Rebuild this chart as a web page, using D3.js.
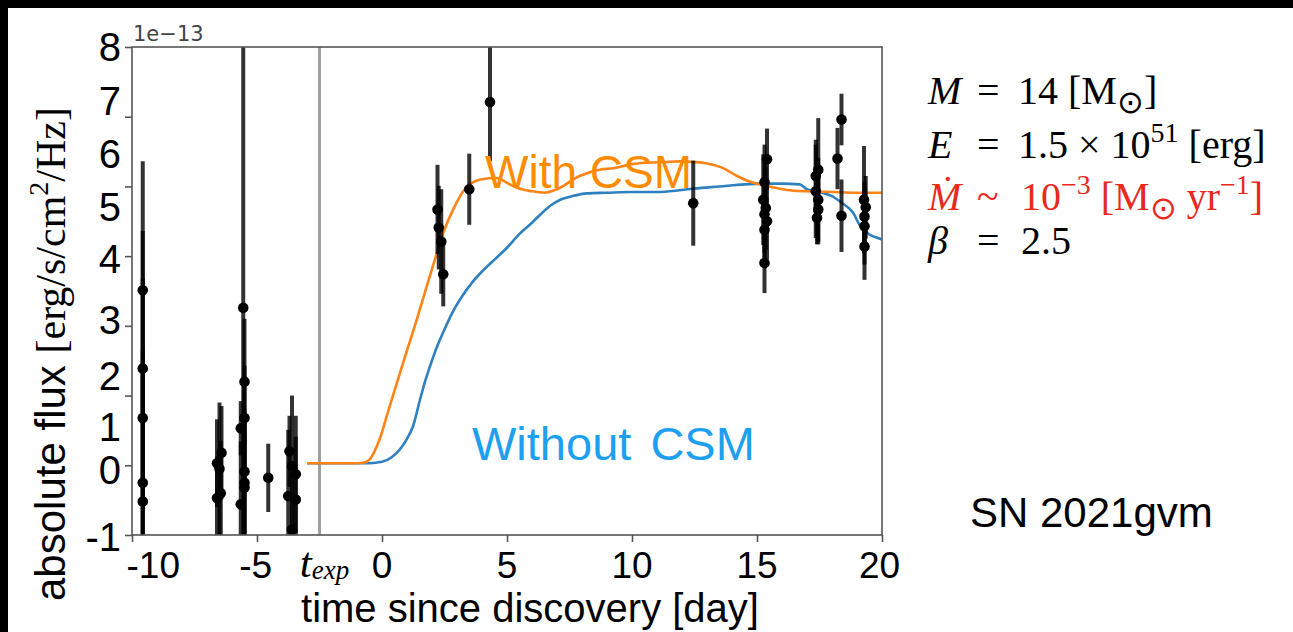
<!DOCTYPE html>
<html><head><meta charset="utf-8">
<script src="https://cdn.jsdelivr.net/npm/d3@7"></script>
<style>body{margin:0;background:#fff;} svg{display:block}</style>
</head><body><svg id="c" width="1293" height="632"></svg>
<script>
// ---------- data ----------
const xTicks = [-10, -5, 0, 5, 10, 15, 20];
const xLabels = ["-10", "-5", "t_exp", "0", "5", "10", "15", "20"];
const xLabelAt = [-9.15, -5.05, -2.3, 0, 5, 10, 15, 19.9];
const yTicks = [-1, 0, 1, 2, 3, 4, 5, 6];
const yLabels = ["8", "7", "6", "5", "4", "3", "2", "1", "0", "-1"];
const yLabelAt = [6.0, 5.23, 4.47, 3.71, 2.97, 2.09, 1.29, 0.56, -0.06, -1.02];
const tExp = -2.5;

const withCSMDay  = [-3.0,-2.0,-1.0,-0.7,-0.5,-0.3,-0.1,0.2,0.5,0.8,1.1,1.4,1.65,1.9,2.2,2.5,2.85,3.25,3.6,3.95,4.6,5.0,5.4,6.0,6.5,7.0,7.9,8.7,9.25,10.0,10.6,11.3,11.9,12.5,13.0,13.6,14.2,14.7,15.1,15.6,16.2,17.0,18.0,19.0,20.0];
const withCSMFlux = [0.03,0.03,0.03,0.04,0.08,0.2,0.37,0.72,1.07,1.42,1.76,2.1,2.4,2.7,3.05,3.38,3.67,3.93,4.05,4.1,4.12,4.05,3.98,3.93,3.91,3.96,4.15,4.24,4.26,4.32,4.34,4.35,4.36,4.35,4.33,4.27,4.15,4.07,4.03,3.99,3.95,3.93,3.92,3.91,3.91];

const noCSMDay  = [-3.0,-1.0,-0.5,0.0,0.4,0.72,1.0,1.24,1.52,1.72,1.92,2.2,2.44,2.8,3.2,3.6,4.0,4.5,5.0,5.5,6.0,6.4,6.8,7.2,7.6,8.2,9.0,10.0,11.0,11.5,12.5,13.5,14.5,15.4,16.0,16.7,17.0,17.5,18.0,18.3,18.6,18.85,19.1,19.3,19.5,19.75,20.0];
const noCSMFlux = [0.03,0.03,0.03,0.05,0.12,0.23,0.38,0.56,0.94,1.2,1.42,1.7,1.9,2.18,2.42,2.62,2.78,2.95,3.12,3.32,3.48,3.62,3.74,3.82,3.86,3.9,3.91,3.92,3.92,3.93,3.97,4.0,4.03,4.04,4.04,4.03,3.96,3.92,3.86,3.79,3.71,3.62,3.45,3.38,3.31,3.27,3.24];

const obsDay  = [-9.57,-9.57,-9.57,-9.57,-9.57,
                 -6.6,-6.42,-6.45,-6.6,-6.5,
                 -5.55,-5.5,-5.5,-5.65,-5.5,-5.5,-5.5,-5.65,
                 -4.55,
                 -3.6,-3.7,-3.45,-3.75,-3.45,-3.6,
                 2.22,2.27,2.37,2.45,
                 3.49,4.32,12.45,
                 15.4,15.3,15.25,15.35,15.3,15.4,15.3,15.3,
                 17.45,17.35,17.35,17.45,17.45,17.4,
                 18.38,18.22,18.38,
                 19.28,19.35,19.3,19.3,19.3];
const obsFlux = [2.51,1.39,0.68,-0.25,-0.52,
                 0.03,0.18,-0.40,-0.47,-0.05,
                 2.26,1.2,0.68,0.53,-0.09,-0.25,-0.32,-0.56,
                 -0.18,
                 -0.01,0.2,-0.13,-0.44,-0.49,-0.92,
                 3.67,3.41,3.21,2.74,
                 3.96,5.21,3.76,
                 4.39,4.06,3.81,3.69,3.6,3.5,3.38,2.9,
                 4.24,4.15,3.93,3.81,3.67,3.55,
                 4.96,4.4,3.58,
                 3.81,3.7,3.57,3.43,3.14];
const obsErr  = [1.85,1.97,2.0,1.9,1.8,
                 0.63,0.67,0.75,0.6,0.95,
                 4.5,0.9,0.75,0.39,0.9,0.85,0.8,0.9,
                 0.49,
                 1.01,0.51,0.84,0.95,0.9,0.8,
                 0.64,0.6,0.75,0.46,
                 0.51,0.85,0.61,
                 0.44,0.54,0.65,0.6,0.55,0.55,0.5,0.43,
                 0.74,0.52,0.67,0.6,0.5,0.38,
                 0.37,0.44,0.52,
                 0.77,0.45,0.5,0.55,0.48];

// ---------- layout ----------
const svg = d3.select("#c");
const L = 132, T = 47, R = 882, B = 535;
const x = d3.scaleLinear().domain([-10, 20]).range([L, R]);
const y = d3.scaleLinear().domain([-1, 6]).range([B, T]);
const sans = "Liberation Sans, Arial, sans-serif";
const serif = "Liberation Serif, Times New Roman, serif";

// black slide edges
svg.append("rect").attr("x",0).attr("y",0).attr("width",1293).attr("height",8).attr("fill","#000");
svg.append("rect").attr("x",0).attr("y",0).attr("width",8).attr("height",632).attr("fill","#000");

svg.append("defs").append("clipPath").attr("id","pc")
  .append("rect").attr("x",L).attr("y",T).attr("width",R-L).attr("height",B-T);

const plot = svg.append("g").attr("clip-path","url(#pc)");

// t_exp line
plot.append("line").attr("x1",x(tExp)).attr("x2",x(tExp)).attr("y1",T).attr("y2",B)
  .attr("stroke","#a0a0a0").attr("stroke-width",3);

// model curves
const line = d3.line().x(d=>x(d[0])).y(d=>y(d[1])).curve(d3.curveMonotoneX);
plot.append("path").datum(noCSMDay.map((d,i)=>[d,noCSMFlux[i]]))
  .attr("d",line).attr("fill","none").attr("stroke","#2f80bf").attr("stroke-width",2.6);
plot.append("path").datum(withCSMDay.map((d,i)=>[d,withCSMFlux[i]]))
  .attr("d",line).attr("fill","none").attr("stroke","#ff8417").attr("stroke-width",2.6);

// observations
const obs = obsDay.map((d,i)=>({d, f: obsFlux[i], e: obsErr[i]}));
plot.append("g").selectAll("line").data(obs).join("line")
  .attr("x1",o=>x(o.d)).attr("x2",o=>x(o.d))
  .attr("y1",o=>y(o.f+o.e)).attr("y2",o=>y(o.f-o.e))
  .attr("stroke","#000").attr("stroke-opacity",0.8).attr("stroke-width",4);
plot.append("g").selectAll("circle").data(obs).join("circle")
  .attr("cx",o=>x(o.d)).attr("cy",o=>y(o.f)).attr("r",5.3).attr("fill","#000");

// frame
svg.append("rect").attr("x",L).attr("y",T).attr("width",R-L).attr("height",B-T)
  .attr("fill","none").attr("stroke","#555").attr("stroke-width",1.6);

// axes (ticks only, labels overlaid separately)
const xAxis = svg.append("g").attr("transform",`translate(0,${B})`)
  .call(d3.axisBottom(x).tickValues(xTicks).tickSize(7).tickFormat(""));
const yAxis = svg.append("g").attr("transform",`translate(${L},0)`)
  .call(d3.axisLeft(y).tickValues(yTicks).tickSize(7).tickFormat(""));
[xAxis,yAxis].forEach(a=>{
  a.select(".domain").remove();
  a.selectAll("line").attr("stroke","#555").attr("stroke-width",1.6);
});

// offset text
svg.append("text").attr("x",L+1).attr("y",41).text("1e\u221213")
  .attr("font-family","DejaVu Sans").attr("font-size",21).attr("fill","#444");

// y tick labels (overlay)
svg.append("g").selectAll("text").data(yLabels).join("text")
  .attr("x",121).attr("y",(d,i)=>y(yLabelAt[i])).attr("dy","0.36em")
  .attr("text-anchor","end").attr("font-family",sans)
  .attr("font-size",40).attr("fill","#000").text(d=>d);

// x tick labels (overlay)
const xl = svg.append("g").selectAll("text").data(xLabels).join("text")
  .attr("x",(d,i)=>x(xLabelAt[i])).attr("y",578)
  .attr("text-anchor","middle").attr("font-family",sans)
  .attr("font-size",37).attr("fill","#000");
xl.each(function(d){
  const t = d3.select(this);
  if (d === "t_exp") {
    t.attr("font-family",serif).attr("font-style","italic").attr("y",577);
    t.append("tspan").attr("font-size",43).text("t");
    t.append("tspan").attr("font-size",27).attr("dy",2).text("exp");
  } else t.text(d);
});

// axis titles
svg.append("text").attr("x",530).attr("y",622).attr("text-anchor","middle")
  .attr("font-family",sans).attr("font-size",40)
  .text("time since discovery [day]");

const yt = svg.append("text").attr("transform","translate(65,601) rotate(-90)")
  .attr("text-anchor","start").attr("font-size",42);
yt.append("tspan").attr("font-family",sans).text("absolute flux ");
yt.append("tspan").attr("font-family",serif).attr("font-size",42).text("[erg/s/cm");
yt.append("tspan").attr("font-family",serif).attr("font-size",28).attr("dy",-17).text("2");
yt.append("tspan").attr("font-family",serif).attr("font-size",42).attr("dy",17).text("/Hz]");

// curve annotations
svg.append("text").attr("x",x(4.12)).attr("y",y(3.98)).text("With CSM")
  .attr("font-family",sans).attr("font-size",46).attr("fill","#ff8c00");
svg.append("text").attr("x",x(3.6)).attr("y",y(0.08)).text("Without CSM")
  .attr("font-family",sans).attr("font-size",47).attr("word-spacing",6).attr("fill","#1ea0f0");

// parameter block
const px0 = 928, pEq = 977, pVal = 1018, fs = 40;
function paramLine(yb, color, sym, rel, parts){
  const t = svg.append("text").attr("y",yb).attr("font-family",serif).attr("font-size",fs).attr("fill",color);
  t.append("tspan").attr("x",px0).attr("font-style","italic").text(sym);
  t.append("tspan").attr("x",pEq).text(rel);
  let first = true;
  parts.forEach(p=>{
    const s = t.append("tspan").text(p.t);
    if (first) { s.attr("x",pVal + (p.dx||0)); first = false; }
    if (p.sup) s.attr("font-size",fs*0.7).attr("dy",-16);
    if (p.sub) s.attr("font-size",fs*0.8).attr("dy",9);
    if (p.back) s.attr("dy",p.back);
  });
}
paramLine(104,"#000","M","=",[{t:"14 [M"},{t:"\u2299",sub:true},{t:"]",back:-9}]);
paramLine(158,"#000","E","=",[{t:"1.5 \u00d7 10"},{t:"51",sup:true},{t:" [erg]",back:16}]);
paramLine(210,"#e8291c","\u1e40","~",[{t:"10",dx:3},{t:"\u22123",sup:true},{t:" [M",back:16},{t:"\u2299",sub:true},{t:" yr",back:-9},{t:"\u22121",sup:true},{t:"]",back:16}]);
paramLine(254,"#000","\u03b2","=",[{t:"2.5",dx:3}]);

svg.append("text").attr("x",970).attr("y",527).text("SN 2021gvm")
  .attr("font-family",sans).attr("font-size",42).attr("fill","#000");
</script></body></html>
